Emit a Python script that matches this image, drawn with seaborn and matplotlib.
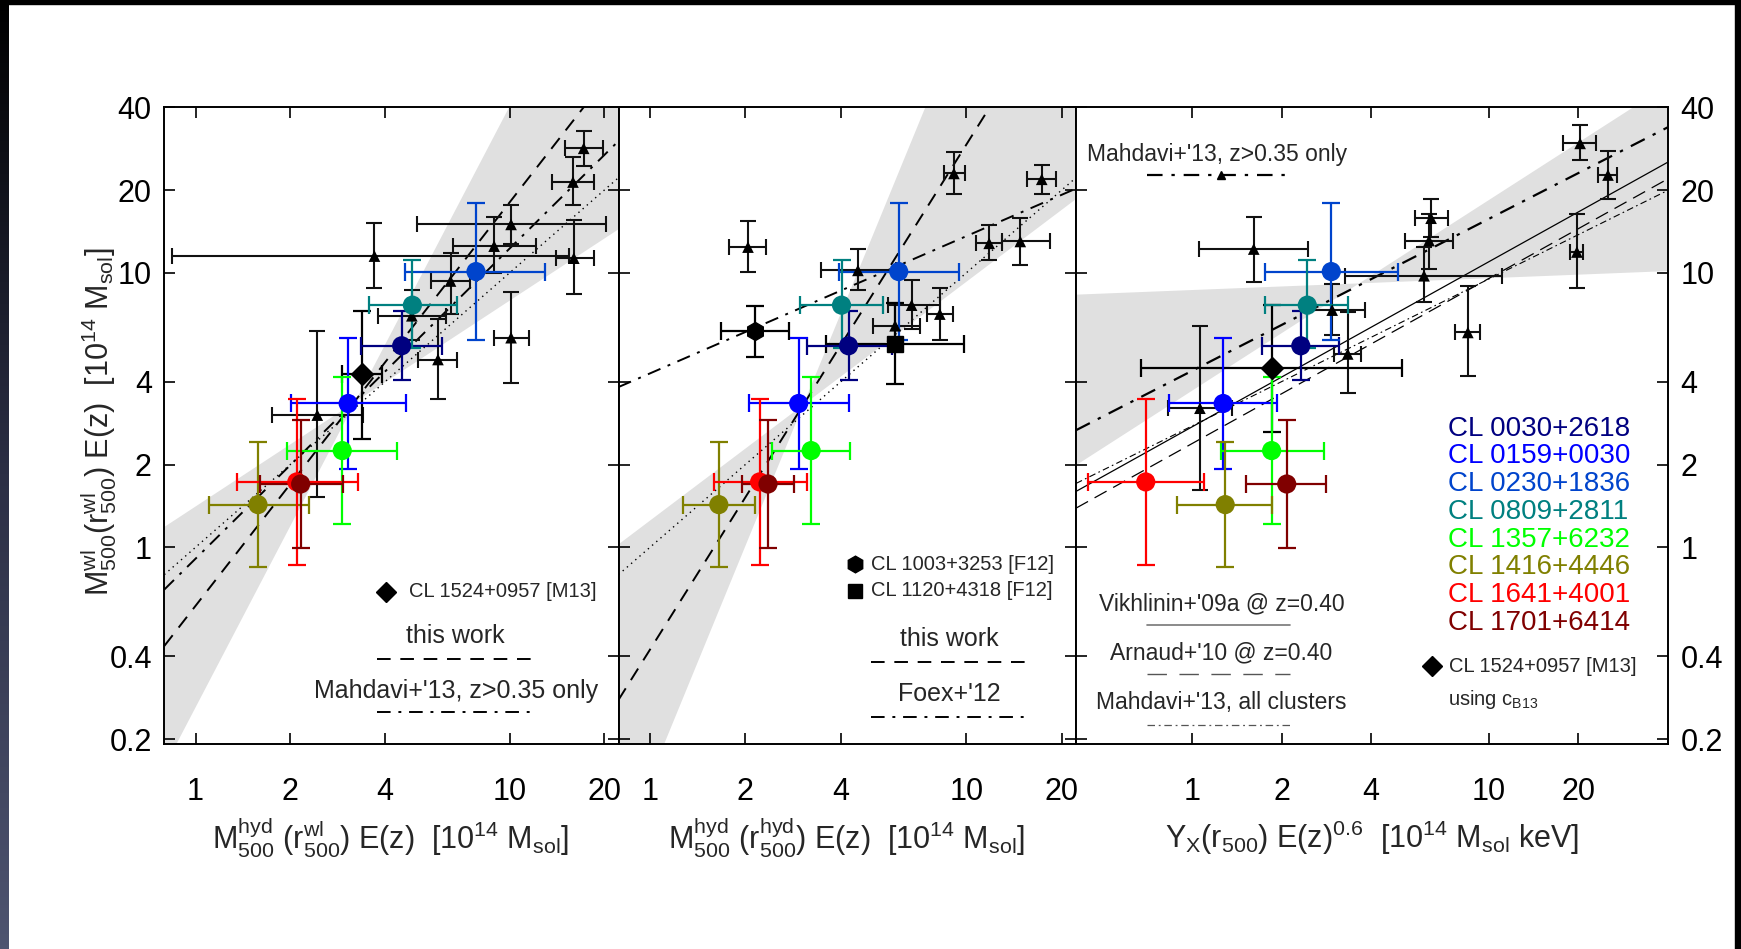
import numpy as np
import pandas as pd
import seaborn as sns
import matplotlib.pyplot as plt
from matplotlib.patches import Rectangle
from matplotlib.colors import LinearSegmentedColormap

# ---- data ----
clusters = ['CL 0030+2618', 'CL 0159+0030', 'CL 0230+1836', 'CL 0809+2811',
            'CL 1357+6232', 'CL 1416+4446', 'CL 1641+4001', 'CL 1701+6414']
cl_colors = ['#000080', '#0000ff', '#0044cc', '#008080',
             '#00ff00', '#808000', '#ff0000', '#800000']

# weak-lensing masses (same y in all panels)
wl_mass = [5.42, 3.34, 10.1, 7.62, 2.25, 1.43, 1.73, 1.70]
wl_lo = [4.07, 1.93, 5.69, 5.30, 1.22, 0.85, 0.86, 0.99]
wl_hi = [7.25, 5.80, 18.0, 11.1, 4.16, 2.41, 3.47, 2.92]

# panel 1: M_hyd(r_wl)
hyd_wl = [4.53, 3.06, 7.81, 4.90, 2.93, 1.58, 2.10, 2.16]
hyd_wl_lo = [3.36, 2.01, 4.65, 3.56, 1.96, 1.10, 1.35, 1.60]
hyd_wl_hi = [6.11, 4.69, 13.0, 6.80, 4.37, 2.29, 3.29, 2.94]

# panel 2: M_hyd(r_hyd)
hyd_hyd = [4.24, 2.95, 6.11, 4.03, 3.23, 1.65, 2.22, 2.36]
hyd_hyd_lo = [3.14, 2.05, 3.96, 2.97, 2.43, 1.27, 1.59, 1.95]
hyd_hyd_hi = [5.82, 4.24, 9.47, 5.44, 4.28, 2.15, 3.14, 2.86]

# panel 3: Y_X
yx = [2.32, 1.27, 2.94, 2.44, 1.85, 1.29, 0.696, 2.08]
yx_lo = [1.72, 0.833, 1.76, 1.76, 1.25, 0.89, 0.443, 1.52]
yx_hi = [3.12, 1.93, 4.95, 3.34, 2.78, 1.85, 1.09, 2.83]

# CL 1524+0957 [M13] (x, xlo, xhi, y, ylo, yhi)
m13_p1 = [3.38, 2.92, 3.91, 4.26, 2.49, 7.27]
m13_p3 = [1.85, 0.673, 5.09, 4.48, 2.62, 7.63]
# F12 clusters in panel 2
f12_hex = [2.14, 1.68, 2.75, 6.15, 4.95, 7.58]
f12_sq = [5.95, 3.61, 9.83, 5.50, 3.92, 7.78]

# Mahdavi+13 clusters (triangles)
p1_tri_x = [3.71, 16.0, 17.2, 15.9, 10.1, 8.92, 6.48, 4.88, 5.91, 10.1, 2.44]
p1_tri_xlo = [0.84, 14.0, 15.0, 13.6, 5.06, 6.58, 5.63, 3.81, 5.1, 8.92, 1.75]
p1_tri_xhi = [15.4, 18.5, 19.8, 18.6, 20.2, 12.1, 7.5, 6.26, 6.8, 11.5, 3.42]
p1_tri_y = [11.5, 11.3, 28.4, 21.4, 15.0, 12.5, 9.33, 6.97, 4.83, 5.80, 3.03]
p1_tri_ylo = [8.82, 8.4, 24.4, 17.6, 12.7, 9.98, 7.07, 5.69, 3.46, 3.98, 1.53]
p1_tri_yhi = [15.2, 15.6, 32.9, 26.4, 17.6, 15.9, 11.8, 8.65, 6.76, 8.48, 6.15]

p2_tri_x = [2.04, 9.13, 17.3, 11.8, 14.8, 4.54, 6.71, 8.24, 5.95]
p2_tri_xlo = [1.78, 8.47, 15.5, 10.7, 13.0, 3.48, 5.64, 7.48, 5.05]
p2_tri_xhi = [2.33, 9.87, 19.2, 13.0, 18.4, 6.0, 8.23, 9.1, 7.11]
p2_tri_y = [12.4, 23.0, 21.9, 12.8, 13.0, 10.2, 7.62, 7.07, 6.41]
p2_tri_ylo = [10.1, 19.3, 19.3, 11.1, 10.7, 8.65, 6.22, 5.69, 5.56]
p2_tri_yhi = [15.5, 27.6, 24.7, 14.9, 15.8, 12.2, 9.45, 8.82, 7.78]

p3_tri_x = [1.61, 20.3, 25.2, 6.38, 6.28, 6.04, 19.8, 8.49, 2.96, 3.34, 1.06]
p3_tri_xlo = [1.05, 17.8, 23.3, 5.65, 5.23, 3.28, 18.8, 7.67, 2.32, 3.0, 0.827]
p3_tri_xhi = [2.46, 23.0, 27.1, 7.3, 7.59, 11.1, 20.8, 9.36, 3.81, 3.69, 1.36]
p3_tri_y = [12.2, 29.6, 22.7, 15.8, 13.1, 9.75, 11.9, 6.06, 7.31, 5.06, 3.21]
p3_tri_ylo = [9.28, 25.7, 18.5, 13.5, 10.3, 7.80, 8.82, 4.21, 5.94, 3.64, 1.61]
p3_tri_yhi = [16.0, 34.6, 27.7, 18.5, 16.4, 12.4, 16.4, 8.98, 9.07, 7.17, 6.39]

# scaling relations: (pivot x, y at pivot, slope)
fit_p1 = (3.21, 3.4, 1.47)
fit_p1_band = (0.75, 2.19)
fit_p2 = (3.05, 3.3, 1.84)
fit_p2_band = (0.87, 2.81)
mahdavi_hi_z_p1 = (1.0, 0.909, 1.13)
foex_p2 = (1.0, 4.30, 0.50)
mahdavi_hi_z_p3 = (1.0, 4.40, 0.553)
vikhlinin_p3 = (1.0, 2.75, 0.601)
arnaud_p3 = (1.0, 2.39, 0.601)
mahdavi_all_p3 = (1.0, 2.77, 0.535)
band_p3 = [(1.0, 3.75, 0.694), (1.0, 8.69, 0.043)]

# ---- style ----
sns.set_style('ticks')
plt.rcParams['font.family'] = ['Liberation Sans', 'DejaVu Sans']
plt.rcParams['mathtext.fontset'] = 'custom'
plt.rcParams['mathtext.rm'] = 'Liberation Sans'
plt.rcParams['mathtext.it'] = 'Liberation Sans:italic'
plt.rcParams['mathtext.bf'] = 'Liberation Sans:bold'

palette = dict(zip(clusters, cl_colors))
band_color = '#e0e0e0'


def power_law(x, p):
    x0, y0, s = p
    return y0 * (np.asarray(x) / x0) ** s


def setup_axis(ax, xlim, left_labels, right_labels):
    ax.set_xscale('log')
    ax.set_yscale('log')
    ax.set_xlim(*xlim)
    ax.set_ylim(0.192, 40.3)
    xt = [1, 2, 4, 10, 20]
    ax.set_xticks(xt, [str(t) for t in xt])
    yt = [0.2, 0.4, 1, 2, 4, 10, 20, 40]
    ax.set_yticks(yt, ['0.2', '0.4', '1', '2', '4', '10', '20', '40'])
    ax.minorticks_off()
    ax.tick_params(axis='both', direction='in', top=True, right=True,
                   length=8, width=1.2, labelsize=22, colors='black')
    ax.tick_params(axis='x', pad=24)
    ax.tick_params(axis='y', pad=9, labelleft=left_labels, labelright=right_labels)
    for sp in ax.spines.values():
        sp.set_linewidth(1.4)
        sp.set_color('black')
        sp.set_visible(True)
    ax.set_facecolor('white')


def cluster_points(ax, xs, xlo, xhi):
    for i, c in enumerate(cl_colors):
        ax.errorbar([xs[i]], [wl_mass[i]],
                    xerr=[[xs[i] - xlo[i]], [xhi[i] - xs[i]]],
                    yerr=[[wl_mass[i] - wl_lo[i]], [wl_hi[i] - wl_mass[i]]],
                    fmt='none', ecolor=c, elinewidth=1.6, capsize=6.5,
                    capthick=1.6, zorder=4)
    df = pd.DataFrame({'x': xs, 'y': wl_mass, 'cluster': clusters})
    sns.scatterplot(data=df, x='x', y='y', hue='cluster', palette=palette,
                    s=190, edgecolor='none', legend=False, ax=ax, zorder=6)
    ax.set_xlabel('')
    ax.set_ylabel('')


def triangles(ax, x, xlo, xhi, y, ylo, yhi):
    x = np.array(x); y = np.array(y)
    ax.errorbar(x, y, xerr=[x - np.array(xlo), np.array(xhi) - x],
                yerr=[y - np.array(ylo), np.array(yhi) - y],
                fmt='none', ecolor='#111111', elinewidth=1.5, capsize=6,
                capthick=1.5, zorder=3)
    sns.scatterplot(x=x, y=y, marker='^', color='black', s=70,
                    edgecolor='none', ax=ax, zorder=5)
    ax.set_xlabel('')
    ax.set_ylabel('')


def single_point(ax, p, marker, ms):
    ax.errorbar([p[0]], [p[3]], xerr=[[p[0] - p[1]], [p[2] - p[0]]],
                yerr=[[p[3] - p[4]], [p[5] - p[3]]], fmt='none',
                ecolor='black', elinewidth=1.6, capsize=6.5, capthick=1.6,
                zorder=4)
    ax.plot([p[0]], [p[3]], marker=marker, color='black', ms=ms,
            ls='none', zorder=6)


def bowtie(ax, xlim, lines):
    xx = np.logspace(np.log10(xlim[0]), np.log10(xlim[1]), 400)
    yy = np.array([power_law(xx, p) for p in lines])
    ax.fill_between(xx, yy.min(axis=0), yy.max(axis=0), color=band_color,
                    lw=0, zorder=0)


dash = (0, (7, 5))
dashdot = (0, (7, 4, 1.5, 4))

fig = plt.figure(figsize=(17.41, 9.49), dpi=100)
fig.patch.set_facecolor('white')
bottom, height = 1 - 744 / 949, 637.4 / 949
ax1 = fig.add_axes([164.3 / 1741, bottom, 454.2 / 1741, height])
ax2 = fig.add_axes([618.5 / 1741, bottom, 457.5 / 1741, height])
ax3 = fig.add_axes([1076 / 1741, bottom, 591.8 / 1741, height])

xlim12 = (0.795, 22.2)
xlim3 = (0.405, 40.1)
xx12 = np.logspace(np.log10(xlim12[0]), np.log10(xlim12[1]), 200)
xx3 = np.logspace(np.log10(xlim3[0]), np.log10(xlim3[1]), 200)

# ---- panel 1 ----
x0, y0, s = fit_p1
bowtie(ax1, xlim12, [(x0, y0, fit_p1_band[0]), (x0, y0, fit_p1_band[1])])
ax1.plot(xx12, power_law(xx12, fit_p1), color='black', lw=1.4, ls=dash, zorder=2)
ax1.plot(xx12, power_law(xx12, mahdavi_hi_z_p1), color='black', lw=1.4, ls=dashdot, zorder=2)
ax1.plot(xx12, xx12, color='black', lw=1.0, ls=(0, (1, 3)), zorder=2)
triangles(ax1, p1_tri_x, p1_tri_xlo, p1_tri_xhi, p1_tri_y, p1_tri_ylo, p1_tri_yhi)
single_point(ax1, m13_p1, 'D', 11)
cluster_points(ax1, hyd_wl, hyd_wl_lo, hyd_wl_hi)
setup_axis(ax1, xlim12, True, False)

t = ax1.transAxes
ax1.plot([0.488], [0.239], marker='D', color='black', ms=10, transform=t)
ax1.text(0.538, 0.239, 'CL 1524+0957 [M13]', transform=t, fontsize=14.5, va='center')
ax1.text(0.641, 0.169, 'this work', transform=t, fontsize=18, ha='center', va='center')
ax1.plot([0.469, 0.821], [0.134, 0.134], color='black', lw=1.4, ls=dash, transform=t)
ax1.text(0.643, 0.0836, "Mahdavi+'13, z>0.35 only", transform=t, fontsize=18,
         ha='center', va='center')
ax1.plot([0.469, 0.821], [0.0505, 0.0505], color='black', lw=1.4, ls=dashdot, transform=t)

# ---- panel 2 ----
x0, y0, s = fit_p2
bowtie(ax2, xlim12, [(x0, y0, fit_p2_band[0]), (x0, y0, fit_p2_band[1])])
ax2.plot(xx12, power_law(xx12, fit_p2), color='black', lw=1.4, ls=dash, zorder=2)
ax2.plot(xx12, power_law(xx12, foex_p2), color='black', lw=1.4, ls=dashdot, zorder=2)
ax2.plot(xx12, xx12, color='black', lw=1.0, ls=(0, (1, 3)), zorder=2)
triangles(ax2, p2_tri_x, p2_tri_xlo, p2_tri_xhi, p2_tri_y, p2_tri_ylo, p2_tri_yhi)
single_point(ax2, f12_hex, 'h', 13)
single_point(ax2, f12_sq, 's', 11)
cluster_points(ax2, hyd_hyd, hyd_hyd_lo, hyd_hyd_hi)
setup_axis(ax2, xlim12, False, False)

t = ax2.transAxes
ax2.plot([0.517], [0.282], marker='h', color='black', ms=12, transform=t)
ax2.text(0.553, 0.282, 'CL 1003+3253 [F12]', transform=t, fontsize=14.5, va='center')
ax2.plot([0.517], [0.2405], marker='s', color='black', ms=10, transform=t)
ax2.text(0.553, 0.2405, 'CL 1120+4318 [F12]', transform=t, fontsize=14.5, va='center')
ax2.text(0.723, 0.1655, 'this work', transform=t, fontsize=18, ha='center', va='center')
ax2.plot([0.553, 0.898], [0.129, 0.129], color='black', lw=1.4, ls=dash, transform=t)
ax2.text(0.723, 0.0785, "Foex+'12", transform=t, fontsize=18, ha='center', va='center')
ax2.plot([0.553, 0.898], [0.042, 0.042], color='black', lw=1.4, ls=dashdot, transform=t)

# ---- panel 3 ----
bowtie(ax3, xlim3, band_p3)
ax3.plot(xx3, power_law(xx3, mahdavi_hi_z_p3), color='black', lw=1.6, ls=dashdot, zorder=2)
ax3.plot(xx3, power_law(xx3, vikhlinin_p3), color='black', lw=0.9, ls='-', zorder=2)
ax3.plot(xx3, power_law(xx3, arnaud_p3), color='black', lw=0.9, ls=(0, (11, 6)), zorder=2)
ax3.plot(xx3, power_law(xx3, mahdavi_all_p3), color='black', lw=0.8, ls=(0, (6, 3, 1.5, 3)), zorder=2)
triangles(ax3, p3_tri_x, p3_tri_xlo, p3_tri_xhi, p3_tri_y, p3_tri_ylo, p3_tri_yhi)
single_point(ax3, m13_p3, 'D', 11)
cluster_points(ax3, yx, yx_lo, yx_hi)
setup_axis(ax3, xlim3, False, True)

t = ax3.transAxes
ax3.text(0.0186, 0.925, "Mahdavi+'13, z>0.35 only", transform=t, fontsize=16.5, va='center')
ax3.plot([0.1198, 0.3616], [0.892, 0.892], color='black', lw=1.6, ls=dashdot, transform=t)
ax3.plot([0.245], [0.892], marker='^', color='black', ms=6, transform=t)
ax3.text(0.2457, 0.2196, "Vikhlinin+'09a @ z=0.40", transform=t, fontsize=16.5,
         ha='center', va='center')
ax3.plot([0.1198, 0.3616], [0.1864, 0.1864], color='#777777', lw=1.2, transform=t)
ax3.text(0.2457, 0.143, "Arnaud+'10 @ z=0.40", transform=t, fontsize=16.5,
         ha='center', va='center')
ax3.plot([0.1198, 0.3616], [0.1098, 0.1098], color='#555555', lw=1.0, ls=(0, (14, 9)), transform=t)
ax3.text(0.2457, 0.0645, "Mahdavi+'13, all clusters", transform=t, fontsize=16.5,
         ha='center', va='center')
ax3.plot([0.1198, 0.3616], [0.0298, 0.0298], color='#555555', lw=0.9,
         ls=(0, (6, 3, 1.5, 3)), transform=t)
for i, (name, c) in enumerate(zip(clusters, cl_colors)):
    ax3.text(0.628, 0.4948 - i * 0.04355, name, transform=t, fontsize=20,
             color=c, va='center')
ax3.plot([0.6018], [0.122], marker='D', color='black', ms=10, transform=t)
ax3.text(0.630, 0.122, 'CL 1524+0957 [M13]', transform=t, fontsize=14.5, va='center')
ax3.text(0.628, 0.0697, r'using c$_{\mathrm{B13}}$', transform=t, fontsize=14.5, va='center')

# ---- axis labels ----
fig.text(99 / 1741, 1 - 422 / 949,
         r'$\mathrm{M}^{\mathrm{wl}}_{500}(\mathrm{r}^{\mathrm{wl}}_{500})\ \mathrm{E(z)}\ \ [10^{14}\ \mathrm{M}_{\mathrm{sol}}]$',
         rotation=90, fontsize=22, ha='center', va='center')
fig.text(391 / 1741, 1 - 838 / 949,
         r'$\mathrm{M}^{\mathrm{hyd}}_{500}\ (\mathrm{r}^{\mathrm{wl}}_{500})\ \mathrm{E(z)}\ \ [10^{14}\ \mathrm{M}_{\mathrm{sol}}]$',
         fontsize=22, ha='center', va='center')
fig.text(847 / 1741, 1 - 838 / 949,
         r'$\mathrm{M}^{\mathrm{hyd}}_{500}\ (\mathrm{r}^{\mathrm{hyd}}_{500})\ \mathrm{E(z)}\ \ [10^{14}\ \mathrm{M}_{\mathrm{sol}}]$',
         fontsize=22, ha='center', va='center')
fig.text(1372 / 1741, 1 - 838 / 949,
         r'$\mathrm{Y}_{\mathrm{X}}(\mathrm{r}_{500})\ \mathrm{E(z)}^{0.6}\ \ [10^{14}\ \mathrm{M}_{\mathrm{sol}}\ \mathrm{keV}]$',
         fontsize=22, ha='center', va='center')

# ---- slide frame ----
fig.patches.append(Rectangle((0, 1 - 4 / 949), 1, 4 / 949, color='black',
                             transform=fig.transFigure, zorder=10))
fig.patches.append(Rectangle((1 - 6 / 1741, 0), 6 / 1741, 1, color='black',
                             transform=fig.transFigure, zorder=10))
gax = fig.add_axes([0, 0, 9 / 1741, 1])
gax.imshow(np.linspace(0, 1, 256)[:, None], aspect='auto',
           cmap=LinearSegmentedColormap.from_list('edge', ['#000000', '#2c2f45', '#4e5470']))
gax.axis('off')

fig.savefig('out.png', dpi=100, facecolor='white')
